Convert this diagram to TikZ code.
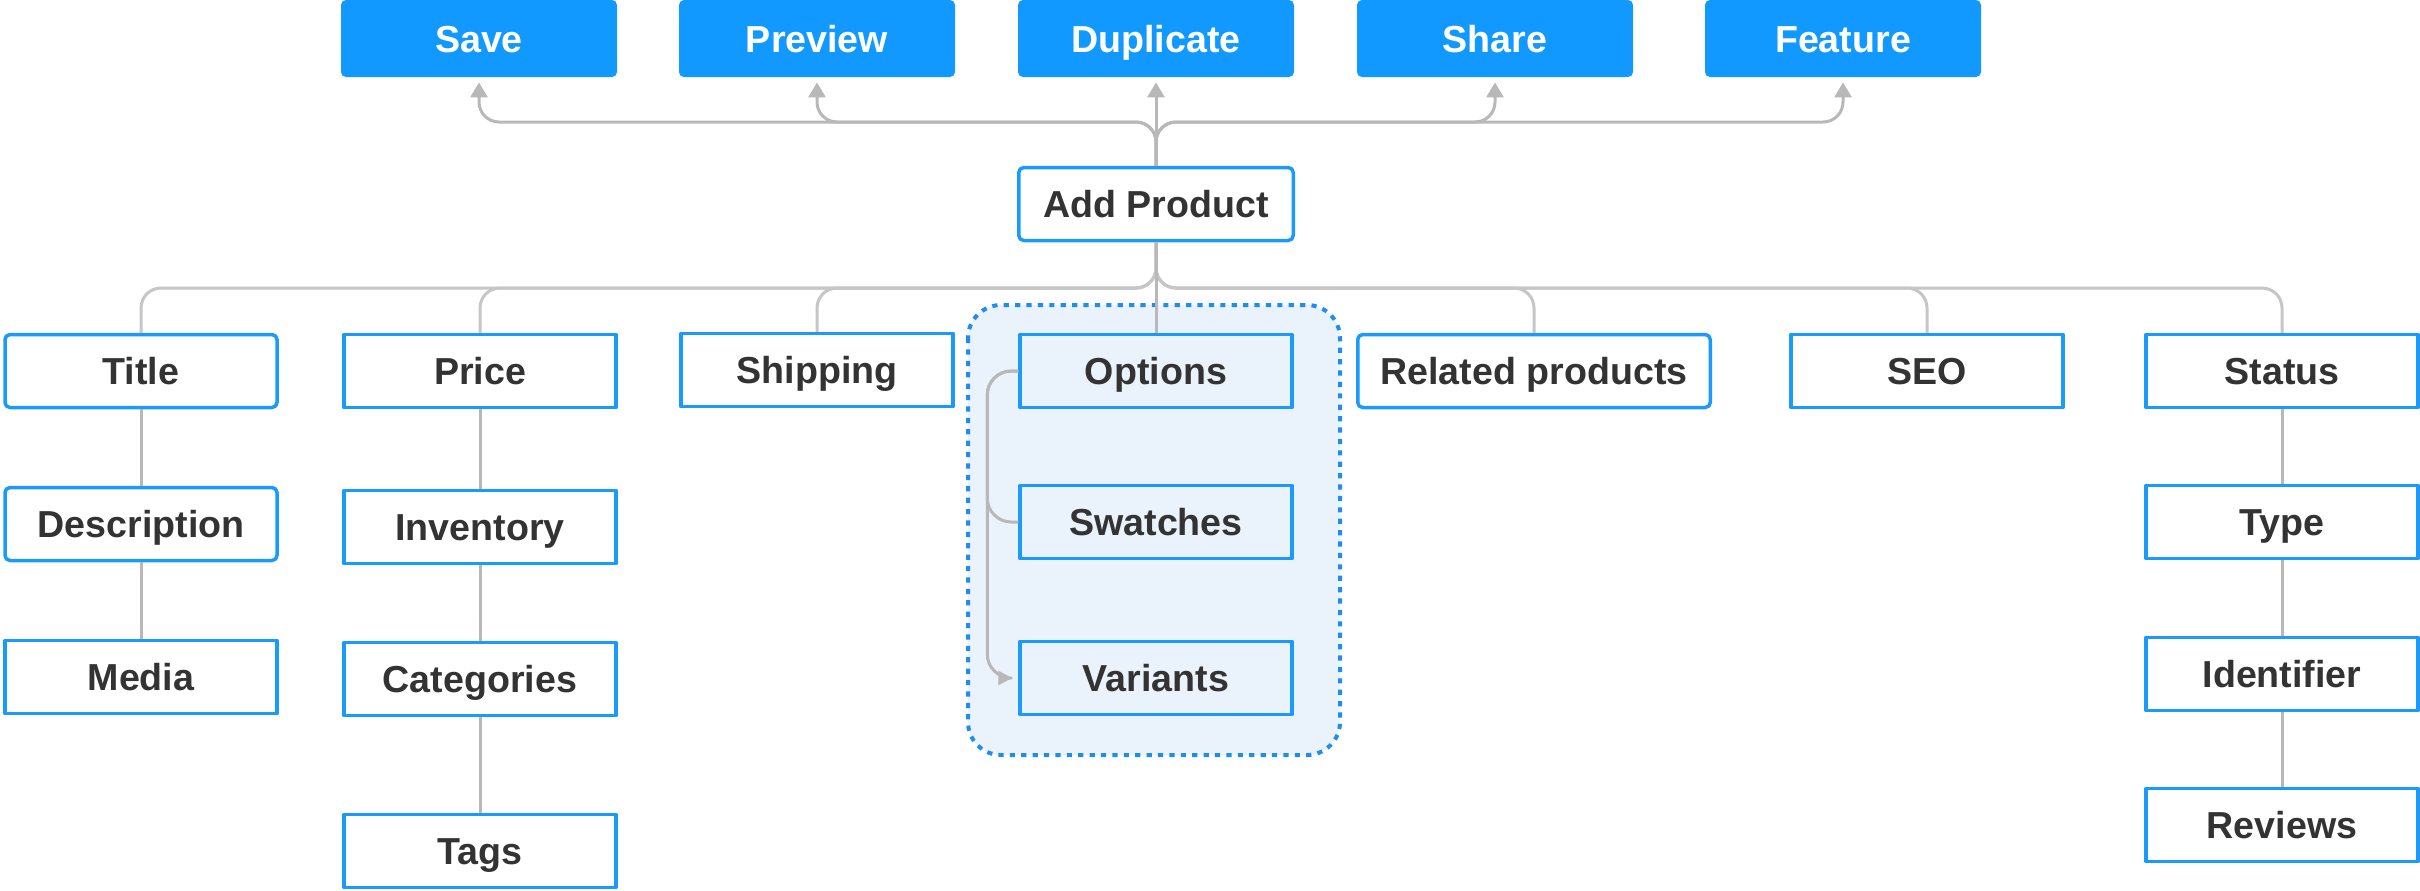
\documentclass[tikz,border=0pt]{standalone}
\usepackage{fontspec}
\setmainfont{Liberation Sans}
\usetikzlibrary{arrows.meta,calc}
\definecolor{actblue}{HTML}{1199FF}
\definecolor{boxblue}{HTML}{1A9BFC}
\definecolor{groupfill}{HTML}{EAF2FC}
\definecolor{groupline}{HTML}{1E8DF0}
\definecolor{linegray}{HTML}{B8B8B8}
\definecolor{busgray}{HTML}{C6C6C6}
\definecolor{ink}{HTML}{333333}
\begin{document}
\begin{tikzpicture}[x=0.5pt,y=-0.5pt,line join=round]
  \tikzstyle{action}=[rectangle,rounded corners=2.5pt,fill=actblue,text=white,minimum width=138pt,minimum height=38.5pt,inner sep=0pt,text height=13.5pt,text depth=0pt,font=\fontsize{18.8}{22}\selectfont\bfseries]
  \tikzstyle{item}=[rectangle,draw=boxblue,line width=1.75pt,fill=white,text=ink,minimum width=136pt,minimum height=36.5pt,inner sep=0pt,text height=13.5pt,text depth=0pt,font=\fontsize{18.8}{22}\selectfont\bfseries]
  \tikzstyle{soft}=[rounded corners=2.5pt]
  \tikzstyle{inner}=[fill=groupfill]
  \tikzstyle{link}=[draw=linegray,line width=1.5pt]
  \tikzstyle{bus}=[draw=busgray,line width=1.5pt,rounded corners=10pt]
  \tikzstyle{up}=[-{Triangle[length=7.5pt,width=8.5pt]}]
  \useasboundingbox (0,0) rectangle (2420,890);
  % options group
  \draw[groupline,fill=groupfill,line width=2pt,dash pattern=on 2.6pt off 3.1pt,rounded corners=16.5pt] (968,305) rectangle (1340,755);
  % actions
  \node[action] (save)  at (479,38.5)  {Save};
  \node[action] (prev)  at (817,38.5)  {Preview};
  \node[action] (dup)   at (1156,38.5) {Duplicate};
  \node[action] (share) at (1495,38.5) {Share};
  \node[action] (feat)  at (1843,38.5) {Feature};
  \node[item,soft,minimum width=137.25pt] (add) at (1156,204) {Add Product};
  % fields
  \node[item,soft] (title) at (141,371) {Title};
  \node[item,soft] (desc)  at (141,524) {Description};
  \node[item]      (media) at (141,677) {Media};
  \node[item] (price) at (480,371) {Price};
  \node[item] (inv)   at (480,527) {Inventory};
  \node[item] (cat)   at (480,679) {Categories};
  \node[item] (tags)  at (480,851) {Tags};
  \node[item] (ship)  at (817,370) {Shipping};
  \node[item,inner] (opts) at (1156,371) {Options};
  \node[item,inner] (swat) at (1156,522) {Swatches};
  \node[item,inner] (vari) at (1156,678) {Variants};
  \node[item,soft,minimum width=176.25pt] (rel) at (1534,371) {Related products};
  \node[item] (seo)    at (1927,371) {SEO};
  \node[item] (status) at (2282,371) {Status};
  \node[item] (type)   at (2282,522) {Type};
  \node[item] (ident)  at (2282,674) {Identifier};
  \node[item] (rev)    at (2282,825) {Reviews};
  \coordinate (topbus) at (0,122);
  \coordinate (lowbus) at (0,288);
  % connectors
  \draw[bus,draw=linegray,up] (add.north) -- ($(dup.south)+(0,5)$);
  \foreach \t in {save,prev,share,feat}
    \draw[bus,draw=linegray,up] (add.north) |- (\t.south |- topbus) -- ($(\t.south)+(0,5)$);
  \foreach \t in {title,price,ship,rel,seo,status}
    \draw[bus] (add.south) |- (\t.north |- lowbus) -- (\t.north);
  \draw[link] (add.south) -- (opts.north);
  \draw[link] (title) -- (desc);
  \draw[link] (desc) -- (media);
  \draw[link] (price) -- (inv);
  \draw[link] (inv) -- (cat);
  \draw[link] (cat) -- (tags);
  \draw[link] (status) -- (type);
  \draw[link] (type) -- (ident);
  \draw[link] (ident) -- (rev);
  \draw[link,rounded corners=12pt] (opts.west) -- ++(-31,0) |- (swat.west);
  \draw[link,rounded corners=12pt,-{Triangle[length=7pt,width=7pt]}] (opts.west) -- ++(-31,0) |- ($(vari.west)+(-6,0)$);
\end{tikzpicture}
\end{document}
